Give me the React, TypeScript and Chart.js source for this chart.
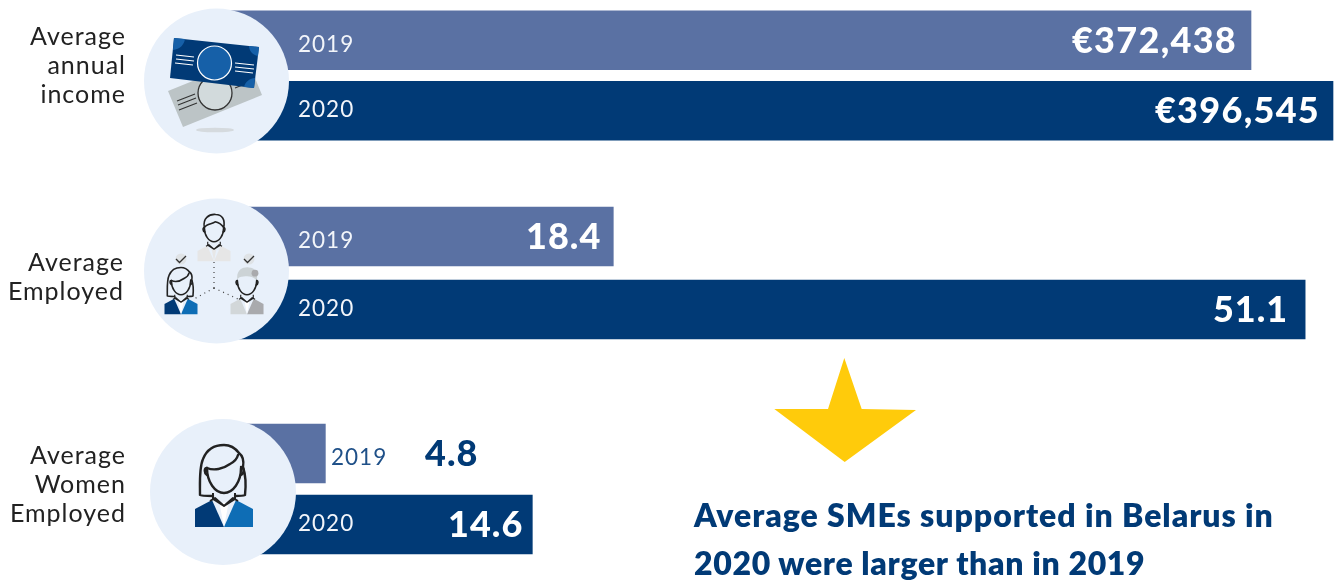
import React, { useEffect, useRef } from "react";
import { Chart, registerables } from "chart.js";

Chart.register(...registerables);

const years = ["2019", "2020"];
const incomeValues = [372438, 396545];
const employedValues = [18.4, 51.1];
const womenValues = [4.8, 14.6];
const incomeLabels = ["€372,438", "€396,545"];
const employedLabels = ["18.4", "51.1"];
const womenLabels = ["4.8", "14.6"];

const COLOR_2019 = "#5a71a3";
const COLOR_2020 = "#013a76";
const FONT = "Lato, 'Open Sans', sans-serif";

const labelPlugin = {
  id: "barText",
  afterDatasetsDraw(chart: any) {
    const o = chart.options.plugins.barText;
    const ctx = chart.ctx;
    const meta = chart.getDatasetMeta(0);
    meta.data.forEach((bar: any, i: number) => {
      ctx.save();
      ctx.textBaseline = "middle";
      ctx.textAlign = "left";
      ctx.fillStyle = o.yearColors[i];
      ctx.font = `400 22.5px ${FONT}`;
      (ctx as any).letterSpacing = "1px";
      ctx.fillText(chart.data.labels[i], o.yearX[i], bar.y + (i === 0 ? 4 : -1));
      ctx.textAlign = "right";
      ctx.fillStyle = o.valueColors[i];
      ctx.font = `900 ${o.valueSize}px ${FONT}`;
      (ctx as any).letterSpacing = o.valueSpacing;
      ctx.fillText(o.values[i], bar.x + o.valueOffset[i], bar.y + 1);
      ctx.restore();
    });
  },
};

function makeChart(canvas: HTMLCanvasElement, values: number[], min: number, max: number, text: any) {
  return new Chart(canvas, {
    type: "bar",
    data: {
      labels: years,
      datasets: [{
        data: values,
        backgroundColor: [COLOR_2019, COLOR_2020],
        barThickness: 59,
        borderWidth: 0,
      }],
    },
    options: {
      indexAxis: "y",
      responsive: false,
      animation: false,
      layout: { padding: 0 },
      scales: {
        x: { display: false, min, max, grid: { display: false } },
        y: { display: false, grid: { display: false } },
      },
      plugins: { legend: { display: false }, tooltip: { enabled: false }, barText: text } as any,
    },
    plugins: [labelPlugin],
  } as any);
}

function Suit({ left, right, v = "#ffffff" }: { left: string; right: string; v?: string }) {
  return (
    <g>
      <path d="M-29 81V63L-12 54L0 81Z" fill={left} />
      <path d="M29 81V63L12 54L0 81Z" fill={right} />
      <path d="M-4 60L0 81L4 60L0 56Z" fill={v} />
      <path d="M-11 47V53L0 60L11 53V47M-14 55L-9 52L0 60L9 52L14 55" fill="none" stroke="#222" strokeWidth="2" strokeLinejoin="round" />
    </g>
  );
}

function Woman({ x, y, s, left, right }: { x: number; y: number; s: number; left: string; right: string }) {
  return (
    <g transform={`translate(${x} ${y}) scale(${s})`}>
      <Suit left={left} right={right} />
      <g fill="none" stroke="#222" strokeWidth={s >= 1 ? 2.4 : 2.8} strokeLinejoin="round" strokeLinecap="round">
        <path d="M-11 50C-20 50 -23 50 -24 49C-24 35 -25 22 -21 13C-17 3 -9 -1 0 -1C7 -1 12 3 15 7C19 10 20 15 19 21C22 30 22 40 21 49C19 50 15 50 11 50" />
        <path d="M-17 22C-17 36 -9 47 0 47C9 47 17 36 17 22" />
        <path d="M-17 22C-10 25 -1 23 6 18C10 16 13 13 14 9" />
        <path d="M-17 22C-20 22 -20 27 -17 29M17 21C20 21 21 27 17 29" />
      </g>
    </g>
  );
}

function Man({ x, y, s, left, right, hair }: { x: number; y: number; s: number; left: string; right: string; hair?: string }) {
  return (
    <g transform={`translate(${x} ${y}) scale(${s})`}>
      <Suit left={left} right={right} v={left === right ? "#e7e7e7" : "#ffffff"} />
      {hair && <path d="M-17 20C-19 4 -8 -2 3 -1C14 -1 20 8 17 22C10 14 2 14 -6 15C-12 15 -15 17 -17 20Z" fill={hair} />}
      {hair && <circle cx="14" cy="9" r="6" fill="#a9aaad" />}
      <g fill="none" stroke="#222" strokeWidth="2.8" strokeLinejoin="round" strokeLinecap="round">
        <path d="M-17 22C-17 36 -9 47 0 47C9 47 17 36 17 22" />
        {!hair && <path d="M-17 22C-20 6 -9 -2 3 -1C14 -1 20 8 17 22C12 15 7 13 2 12C-3 16 -13 15 -17 22Z" />}
        <path d="M-17 22C-20 22 -20 29 -16 30M17 22C20 22 20 29 16 30" />
      </g>
    </g>
  );
}

function Tick({ x, y }: { x: number; y: number }) {
  return (
    <g>
      <circle cx={x} cy={y} r="5.5" fill="#dfe3e6" />
      <path d={`M${x - 5} ${y}L${x - 1.5} ${y + 3.5}L${x + 5} ${y - 3}`} fill="none" stroke="#333" strokeWidth="1.3" />
    </g>
  );
}

function Notes() {
  return (
    <g>
      <ellipse cx="215" cy="130" rx="19" ry="2.3" fill="#d5dade" />
      <path d="M168 91L247 59L262 95L183 127Z" fill="#bcc4c6" />
      <circle cx="215" cy="93" r="17" fill="#d2dadc" stroke="#333" strokeWidth="1.3" />
      <path d="M177 101L195 94M178 105L196 98M179 110L197 103M235 88L250 82" stroke="#333" strokeWidth="1.1" />
      <path d="M174 38L259 47L254 88L170 78Z" fill="#013a76" />
      <path d="M174 38L185 39C184 45 180 49 173 50ZM259 47L249 46C249 51 253 55 258 56ZM254 88L255 78C250 78 245 82 244 87Z" fill="#1660a8" />
      <circle cx="214.5" cy="63" r="17" fill="#1660a8" stroke="#fff" strokeWidth="1.2" />
      <path d="M176 55L194 57M176 59L194 61M175 63L193 65M235 63L254 65M235 67L254 69M235 71L253 73" stroke="#fff" strokeWidth="1.1" />
    </g>
  );
}

const textStyle: React.CSSProperties = {
  position: "absolute",
  right: 1339 - 126,
  textAlign: "right",
  font: `400 25px/29px ${FONT}`,
  letterSpacing: "1px",
  color: "#222222",
  whiteSpace: "pre-line",
  margin: 0,
};

export default function App() {
  const a = useRef<HTMLCanvasElement>(null);
  const b = useRef<HTMLCanvasElement>(null);
  const c = useRef<HTMLCanvasElement>(null);

  useEffect(() => {
    const white = "#f2f5fa";
    const charts = [
      makeChart(a.current!, incomeValues, 70512, 398309, {
        yearX: [74, 74], yearColors: [white, white], values: incomeLabels, valueColors: ["#fff", "#fff"],
        valueOffset: [-14, -13], valueSize: 36, valueSpacing: "1.3px",
      }),
      makeChart(b.current!, employedValues, 0, 52.7, {
        yearX: [74, 74], yearColors: [white, white], values: employedLabels, valueColors: ["#fff", "#fff"],
        valueOffset: [-12, -17], valueSize: 36, valueSpacing: "1px",
      }),
      makeChart(c.current!, womenValues, 0, 52.8, {
        yearX: [107, 74], yearColors: ["#1f5088", white], values: womenLabels, valueColors: [COLOR_2020, "#fff"],
        valueOffset: [153, -9], valueSize: 36, valueSpacing: "1px",
      }),
    ];
    return () => charts.forEach((ch) => ch.destroy());
  }, []);

  const canvasStyle = (top: number): React.CSSProperties => ({ position: "absolute", left: 224, top, display: "block" });

  return (
    <div style={{ position: "absolute", left: 0, top: 0, width: 1339, height: 580, overflow: "hidden", background: "#fff" }}>
      <canvas ref={a} width={1115} height={141} style={canvasStyle(5)} />
      <canvas ref={b} width={1115} height={146} style={canvasStyle(200)} />
      <canvas ref={c} width={1115} height={142} style={canvasStyle(418)} />
      <svg width={1339} height={580} style={{ position: "absolute", left: 0, top: 0 }}>
        <circle cx="216.5" cy="81" r="72.5" fill="#e8f0fa" />
        <circle cx="216.5" cy="271" r="72.5" fill="#e8f0fa" />
        <circle cx="223" cy="492" r="73" fill="#e8f0fa" />
        <Notes />
        <path d="M214 262V288M214 288L194 299M214 288L238 299" stroke="#444" strokeWidth="1.2" strokeDasharray="1 4" fill="none" />
        <Tick x={181} y={259} />
        <Tick x={249} y={259} />
        <Man x={214} y={215} s={0.57} left="#e6e6e6" right="#e6e6e6" />
        <Woman x={181} y={268} s={0.57} left="#013a76" right="#0e6db5" />
        <Man x={247} y={268} s={0.57} left="#d2d7d9" right="#a9aaad" hair="#ccd3d6" />
        <Woman x={224} y={446} s={1} left="#013a76" right="#0e6db5" />
        <path d="M844.3 358L861.7 409L916 410L844.7 462L774.3 409L828 409Z" fill="#ffcb0b" />
      </svg>
      <p style={{ ...textStyle, top: 21 }}>{"Average\nannual\nincome"}</p>
      <p style={{ ...textStyle, top: 247, right: 1339 - 124 }}>{"Average\nEmployed"}</p>
      <p style={{ ...textStyle, top: 440 }}>{"Average\nWomen\nEmployed"}</p>
      <div style={{ position: "absolute", left: 694, top: 491, margin: 0, font: `800 32px/48px ${FONT}`, color: COLOR_2020, whiteSpace: "pre" }}>
        <div style={{ letterSpacing: "0.96px" }}>Average SMEs supported in Belarus in</div>
        <div style={{ letterSpacing: "0.67px" }}>2020 were larger than in 2019</div>
      </div>
    </div>
  );
}
